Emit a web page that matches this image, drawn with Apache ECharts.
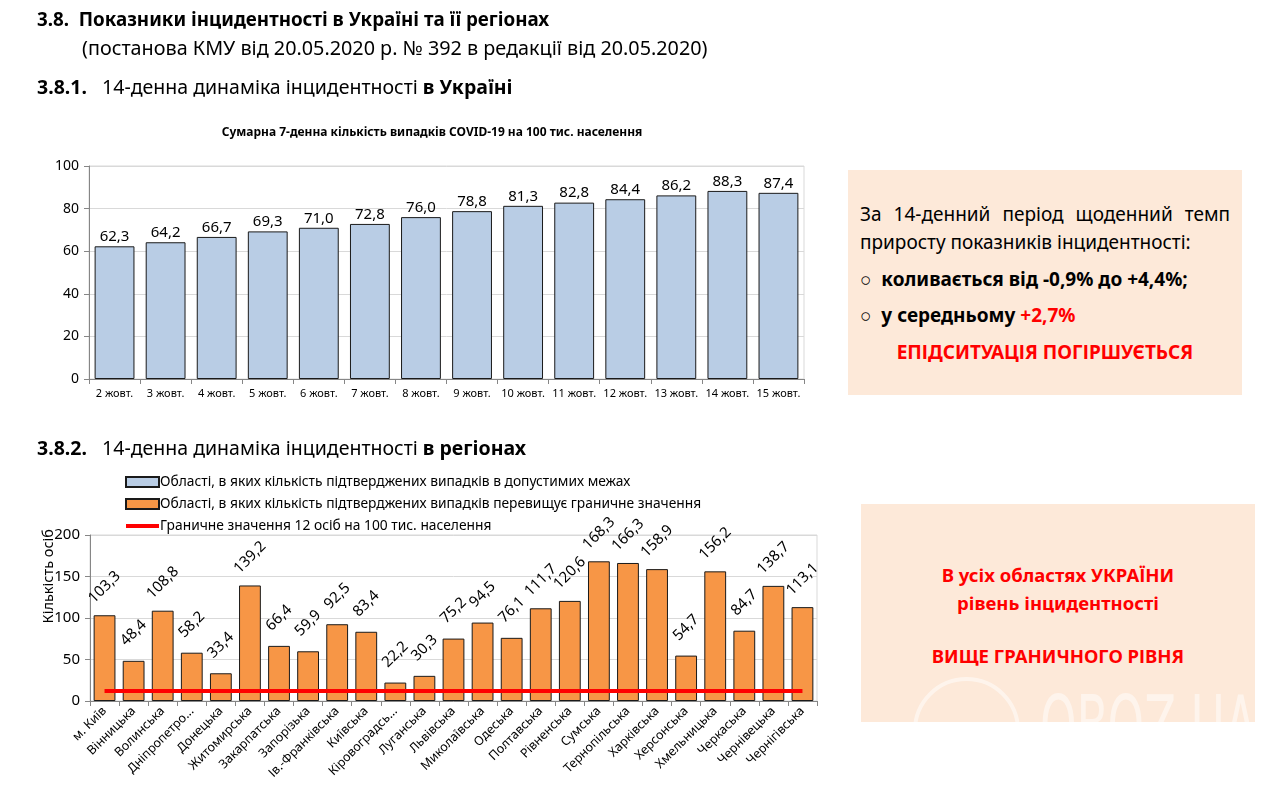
<!DOCTYPE html>
<html><head><meta charset="utf-8">
<script src="https://cdn.jsdelivr.net/npm/echarts@6/dist/echarts.min.js"></script>
<style>
html,body{margin:0;padding:0;background:#fff;}
body{width:1268px;height:799px;position:relative;overflow:hidden;font-family:"Noto Sans",sans-serif;color:#000;}
#chart{position:absolute;left:0;top:0;width:1268px;height:799px;}
.t{position:absolute;white-space:nowrap;}
.box{position:absolute;background:#fde9d9;}
</style></head><body>
<div id="chart"></div>
<div class="t" style="left:37px;top:6px;font-size:18.8px;font-weight:bold;">3.8.&nbsp; Показники інцидентності в Україні та її регіонах</div>
<div class="t" style="left:82px;top:34px;font-size:19.8px;">(постанова КМУ від 20.05.2020 р. № 392 в редакції від 20.05.2020)</div>
<div class="t" style="left:37px;top:73px;font-size:19.5px;"><b>3.8.1.</b>&nbsp;&nbsp; 14-денна динаміка інцидентності <b>в Україні</b></div>
<div class="t" style="left:37px;top:434px;font-size:19.5px;"><b>3.8.2.</b>&nbsp;&nbsp; 14-денна динаміка інцидентності <b>в регіонах</b></div>

<div class="box" style="left:848px;top:170px;width:394px;height:225px;">
  <div class="t" style="left:12px;top:31px;width:370px;font-size:19px;text-align:justify;text-align-last:justify;white-space:normal;">За 14-денний період щоденний темп</div>
  <div class="t" style="left:12px;top:59px;font-size:19px;">приросту показників інцидентності:</div>
  <div class="t" style="left:12px;top:96px;font-size:19px;font-weight:bold;"><span style="font-weight:normal">○</span>&nbsp; коливається від -0,9% до +4,4%;</div>
  <div class="t" style="left:12px;top:132px;font-size:19px;font-weight:bold;"><span style="font-weight:normal">○</span>&nbsp; у середньому <span style="color:#ff0000">+2,7%</span></div>
  <div class="t" style="left:0;top:169px;width:394px;text-align:center;font-size:19px;font-weight:bold;color:#ff0000;">ЕПІДСИТУАЦІЯ ПОГІРШУЄТЬСЯ</div>
</div>

<div class="box" style="left:861px;top:504px;width:394px;height:218px;">
  <div class="t" style="left:0;top:57px;width:394px;text-align:center;font-size:18.5px;font-weight:bold;color:#ff0000;line-height:28px;white-space:normal;">В усіх областях УКРАЇНИ<br>рівень інцидентності</div>
  <div class="t" style="left:0;top:139px;width:394px;text-align:center;font-size:18.5px;font-weight:bold;color:#ff0000;">ВИЩЕ ГРАНИЧНОГО РІВНЯ</div>
</div>
<div class="t" style="left:913px;top:677px;width:107px;height:107px;border-radius:50%;border:4px solid rgba(255,255,255,0.5);box-sizing:border-box;"></div>
<div class="t" style="left:1040px;top:678px;font-size:82px;font-family:'DejaVu Sans Condensed','Noto Sans',sans-serif;color:rgba(255,255,255,0.5);transform:scaleX(0.63);transform-origin:0 0;">OBOZ.UA</div>

<script>
// ---- Top chart data ----
const dates = ['2 жовт.','3 жовт.','4 жовт.','5 жовт.','6 жовт.','7 жовт.','8 жовт.','9 жовт.','10 жовт.','11 жовт.','12 жовт.','13 жовт.','14 жовт.','15 жовт.'];
const ukraineValues = [62.3,64.2,66.7,69.3,71.0,72.8,76.0,78.8,81.3,82.8,84.4,86.2,88.3,87.4];
const topTicks = [0,20,40,60,80,100];

// ---- Bottom chart data ----
const regions = ['м. Київ','Вінницька','Волинська','Дніпропетро...','Донецька','Житомирська','Закарпатська','Запорізька','Ів.-Франківська','Київська','Кіровоградсь...','Луганська','Львівська','Миколаївська','Одеська','Полтавська','Рівненська','Сумська','Тернопільська','Харківська','Херсонська','Хмельницька','Черкаська','Чернівецька','Чернігівська'];
const regionValues = [103.3,48.4,108.8,58.2,33.4,139.2,66.4,59.9,92.5,83.4,22.2,30.3,75.2,94.5,76.1,111.7,120.6,168.3,166.3,158.9,54.7,156.2,84.7,138.7,113.1];
const threshold = 12;
const bottomTicks = [0,50,100,150,200];

const legendNames = ['Області, в яких кількість підтверджених випадків в допустимих межах','Області, в яких кількість підтверджених випадків перевищує граничне значення','Граничне значення 12 осіб на 100 тис. населення'];

const fmt = v => v.toFixed(1).replace('.', ',');
const FONT = '"Noto Sans", sans-serif';

const chart = echarts.init(document.getElementById('chart'), null, {renderer:'canvas'});
chart.setOption({
  animation:false,
  textStyle:{fontFamily:FONT},
  title:{text:'Сумарна 7-денна кількість випадків COVID-19 на 100 тис. населення', left:427, top:122, textAlign:'center',
    textStyle:{fontSize:12, fontWeight:'bold', color:'#000', fontFamily:FONT}},
  legend:{data:[
      {name:legendNames[0], icon:'rect'},
      {name:legendNames[1], icon:'rect'},
      {name:legendNames[2], icon:'path://M0,0L33,0L33,4L0,4Z'}],
    orient:'vertical', left:120, top:470, itemWidth:33, itemHeight:10, itemGap:8,
    textStyle:{fontSize:13.8, color:'#000', fontFamily:FONT, padding:[0,0,0,-4]}, selectedMode:false},
  graphic:[{type:'text', left:41, top:529, rotation:Math.PI/2, style:{text:'Кількість осіб', fill:'#000', font:'14.5px "Noto Sans"'}}],
  grid:[
    {left:89, top:166, width:715, height:213, show:true, borderColor:'#d9d9d9', borderWidth:1},
    {left:90, top:535, width:727, height:166, show:true, borderColor:'#d9d9d9', borderWidth:1}
  ],
  xAxis:[
    {type:'category', gridIndex:0, data:dates, axisLine:{lineStyle:{color:'#868686'}}, axisTick:{show:true, length:5, lineStyle:{color:'#868686'}},
      axisLabel:{fontSize:11, color:'#000', margin:9, interval:0}},
    {type:'category', gridIndex:1, data:regions, axisLine:{lineStyle:{color:'#868686'}}, axisTick:{show:true, length:5, lineStyle:{color:'#868686'}},
      axisLabel:{fontSize:12.5, color:'#000', rotate:45, margin:8, interval:0}}
  ],
  yAxis:[
    {type:'value', gridIndex:0, min:0, max:100, interval:20, axisLine:{show:true, lineStyle:{color:'#868686'}}, axisTick:{show:true, length:5, lineStyle:{color:'#868686'}},
      splitLine:{lineStyle:{color:'#d9d9d9'}}, axisLabel:{fontSize:14, color:'#000', margin:10}},
    {type:'value', gridIndex:1, min:0, max:200, interval:50, axisLine:{show:true, lineStyle:{color:'#868686'}}, axisTick:{show:true, length:5, lineStyle:{color:'#868686'}},
      splitLine:{lineStyle:{color:'#d9d9d9'}}, axisLabel:{fontSize:15, color:'#000', margin:10}}
  ],
  series:[
    {type:'bar', name:'top', xAxisIndex:0, yAxisIndex:0, data:ukraineValues, barCategoryGap:'22%',
      itemStyle:{color:'#b9cde5', borderColor:'#1a1a1a', borderWidth:1},
      label:{show:true, position:'top', distance:2, fontSize:15, color:'#000', formatter:p=>fmt(p.value)}},
    {type:'bar', name:legendNames[0], xAxisIndex:1, yAxisIndex:1, data:regions.map(()=>null), barGap:'-100%',
      itemStyle:{color:'#b9cde5', borderColor:'#1a1a1a', borderWidth:1}},
    {type:'bar', name:legendNames[1], xAxisIndex:1, yAxisIndex:1, data:regionValues, barCategoryGap:'25%',
      itemStyle:{color:'#f79646', borderColor:'#1a1a1a', borderWidth:1},
      label:{show:true, position:'top', distance:28, rotate:45, align:'center', verticalAlign:'middle', fontSize:15, color:'#000', formatter:p=>fmt(p.value)}},
    {type:'line', name:legendNames[2], xAxisIndex:1, yAxisIndex:1, data:regions.map(()=>threshold), symbol:'none',
      lineStyle:{color:'#ff0000', width:4}, itemStyle:{color:'#ff0000'}, z:5}
  ]
});
</script>
</body></html>
